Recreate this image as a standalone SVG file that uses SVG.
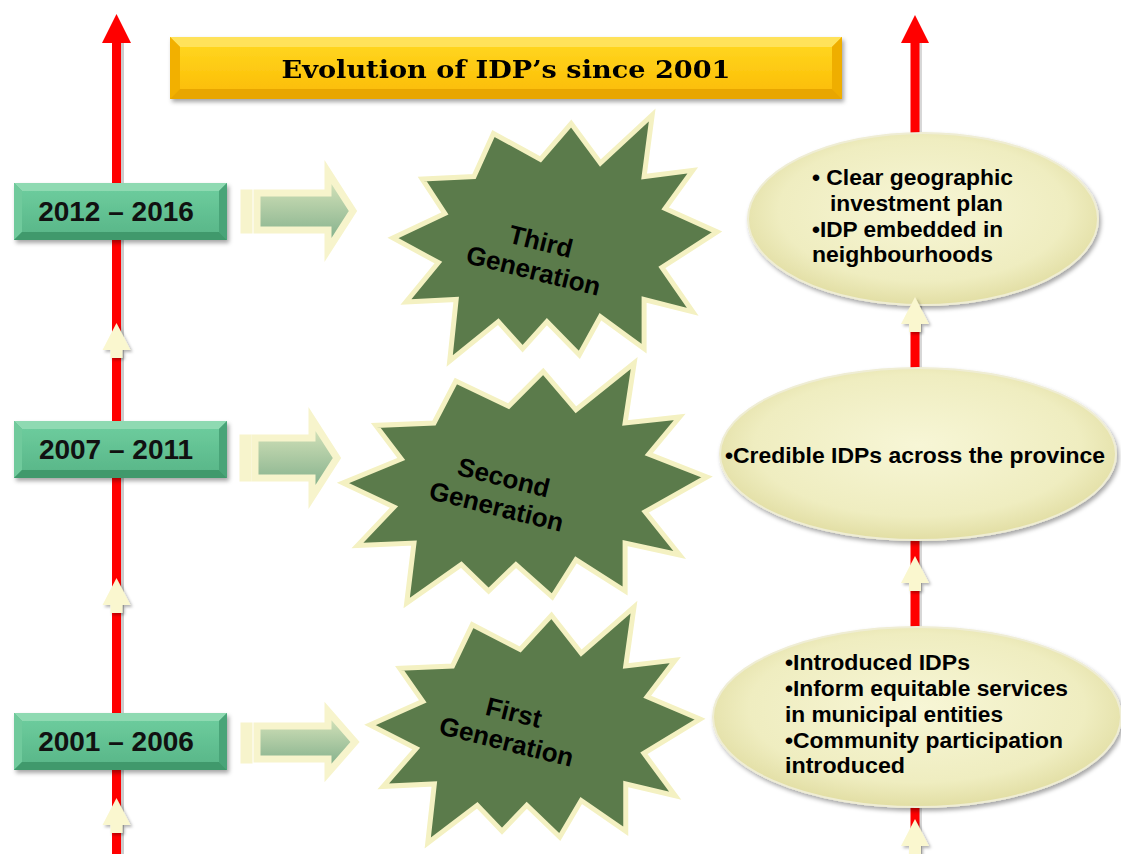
<svg xmlns="http://www.w3.org/2000/svg" xmlns:xlink="http://www.w3.org/1999/xlink" width="1121" height="854" viewBox="0 0 1121 854">
<style>
.yr{font-family:"Liberation Sans",Arial,sans-serif;font-weight:bold;font-size:28px;fill:#111;text-anchor:middle}
.gen{font-family:"Liberation Sans",Arial,sans-serif;font-weight:bold;font-size:26px;fill:#000;text-anchor:middle}
.el{font-family:"Liberation Sans",Arial,sans-serif;font-weight:bold;font-size:22px;fill:#000}
.title{font-family:"DejaVu Serif","Liberation Serif",serif;font-weight:bold;font-size:24px;fill:#000;text-anchor:middle}
.red{fill:#ff0000}
.star{fill:#5b7b4b;stroke:#f4f1c2;stroke-width:5;stroke-linejoin:miter}
.garrow{fill:url(#gArrow);stroke:#f7f4cc;stroke-width:7;stroke-linejoin:miter}
.cream{fill:#faf7cf}
.ell{fill:url(#gEll);stroke:#efedd4;stroke-width:2}
</style>
<defs>
<linearGradient id="gYear" x1="0" y1="0" x2="0" y2="1">
<stop offset="0" stop-color="#6ccb9c"/><stop offset="1" stop-color="#5ab88a"/>
</linearGradient>
<linearGradient id="gTitle" x1="0" y1="0" x2="0" y2="1">
<stop offset="0" stop-color="#ffd51f"/><stop offset="1" stop-color="#fcbf07"/>
</linearGradient>
<linearGradient id="gArrow" x1="0" y1="0" x2="0" y2="1">
<stop offset="0" stop-color="#dfe9c0"/><stop offset="1" stop-color="#78a985"/>
</linearGradient>
<radialGradient id="gEll" cx="0.5" cy="0.45" r="0.55">
<stop offset="0" stop-color="#f7f6d6"/><stop offset="0.75" stop-color="#efedc0"/><stop offset="1" stop-color="#e2dea4"/>
</radialGradient>
<filter id="sh" x="-10%" y="-20%" width="130%" height="150%">
<feDropShadow dx="2" dy="3" stdDeviation="2" flood-color="#000" flood-opacity="0.35"/>
</filter>
<filter id="shl" x="-10%" y="-10%" width="130%" height="130%">
<feDropShadow dx="2" dy="2" stdDeviation="1.5" flood-color="#000" flood-opacity="0.3"/>
</filter>
<g id="ybox">
<rect width="213" height="57" fill="#58b487"/>
<polygon points="0,0 213,0 205,8 8,8" fill="#8fdab2"/>
<polygon points="0,0 8,8 8,49 0,57" fill="#6fca9c"/>
<polygon points="213,0 213,57 205,49 205,8" fill="#4aa478"/>
<polygon points="0,57 8,49 205,49 213,57" fill="#3f996c"/>
<rect x="8" y="8" width="197" height="41" fill="url(#gYear)"/>
</g>
<path id="starShape" vector-effect="non-scaling-stroke" d="M100,-5 L68,-24 L85,-55 L55,-50 L60,-100 L28,-61 L10,-93 L-9,-64 L-38,-85 L-50,-50 L-82,-48 L-68,-20 L-100,0 L-72,20 L-92,52 L-61,50 L-65,100 L-35,68 L-20,90 L-5,68 L15,95 L28,64 L55,90 L55,50 L85,60 L66,24 Z"/>
<path id="smallArrow" d="M0,0 L14,27 L6,27 L6,35 L-6,35 L-6,27 L-14,27 Z"/>
</defs>

<g id="connectors">
<!-- left timeline -->
<rect x="115" y="40" width="9" height="814" fill="#9a9a9a" opacity="0.5"/>
<rect class="red" x="112" y="40" width="9" height="814"/>
<polygon class="red" points="116.5,14 131,43 102,43"/>
<!-- right timeline -->
<rect x="913" y="40" width="9" height="814" fill="#9a9a9a" opacity="0.4"/>
<rect class="red" x="910.5" y="40" width="9" height="814"/>
<polygon class="red" points="915,15 929,43 901,43"/>
<!-- small cream arrows left -->
<use href="#smallArrow" class="cream" x="116.5" y="323" filter="url(#shl)"/>
<use href="#smallArrow" class="cream" x="116.5" y="578" filter="url(#shl)"/>
<use href="#smallArrow" class="cream" x="116.5" y="798" filter="url(#shl)"/>
<!-- green block arrows -->
<rect class="garrow" x="244" y="193" width="5" height="37"/>
<path class="garrow" d="M257,193 H328 V172 L353,211 L328,250 V230 H257 Z"/>
<rect class="garrow" x="243" y="438" width="5" height="40"/>
<path class="garrow" d="M255,438 H312 V419 L337,458 L312,497 V478 H255 Z"/>
<rect class="garrow" x="244" y="726" width="5" height="34"/>
<path class="garrow" d="M257,726 H328 V711 L355,742 L328,773 V759 H257 Z"/>
</g>

<g id="title" filter="url(#sh)">
<rect x="170" y="37" width="672" height="62" fill="#f6b400"/>
<polygon points="170,37 842,37 832,47 180,47" fill="#ffe25a"/>
<polygon points="170,37 180,47 180,89 170,99" fill="#f2b000"/>
<polygon points="842,37 842,99 832,89 832,47" fill="#efae00"/>
<polygon points="170,99 180,89 832,89 842,99" fill="#e8a600"/>
<rect x="180" y="47" width="652" height="42" fill="url(#gTitle)"/>
<text class="title" x="506" y="78" textLength="449" lengthAdjust="spacingAndGlyphs">Evolution of IDP’s since 2001</text>
</g>

<g id="year-2012">
<use href="#ybox" x="14" y="183" filter="url(#sh)"/>
<text class="yr" x="116" y="221">2012 – 2016</text>
</g>
<g id="year-2007">
<use href="#ybox" x="14" y="421" filter="url(#sh)"/>
<text class="yr" x="116" y="459">2007 – 2011</text>
</g>
<g id="year-2001">
<use href="#ybox" x="14" y="713" filter="url(#sh)"/>
<text class="yr" x="116" y="751">2001 – 2006</text>
</g>

<g id="third-generation">
<use href="#starShape" class="star" transform="translate(555,238) scale(1.62,1.23)"/>
<g transform="rotate(14,537,257)">
<text class="gen" x="537" y="250">Third</text>
<text class="gen" x="537" y="280">Generation</text>
</g>
</g>
<g id="second-generation">
<use href="#starShape" class="star" transform="translate(525,483) scale(1.82,1.2)"/>
<g transform="rotate(14,500,493)">
<text class="gen" x="500" y="486">Second</text>
<text class="gen" x="500" y="516">Generation</text>
</g>
</g>
<g id="first-generation">
<use href="#starShape" class="star" transform="translate(535,725) scale(1.65,1.18)"/>
<g transform="rotate(14,510,728)">
<text class="gen" x="510" y="721">First</text>
<text class="gen" x="510" y="751">Generation</text>
</g>
</g>

<g id="outcome-third">
<ellipse class="ell" cx="923" cy="219" rx="175" ry="86" filter="url(#sh)"/>
<text class="el" x="812" y="185" textLength="201" lengthAdjust="spacingAndGlyphs">• Clear geographic</text>
<text class="el" x="830" y="211" textLength="173" lengthAdjust="spacingAndGlyphs">investment plan</text>
<text class="el" x="812" y="237" textLength="191" lengthAdjust="spacingAndGlyphs">•IDP embedded in</text>
<text class="el" x="812" y="262" textLength="181" lengthAdjust="spacingAndGlyphs">neighbourhoods</text>
</g>
<g id="outcome-second">
<ellipse class="ell" cx="918" cy="454" rx="198" ry="86" filter="url(#sh)"/>
<text class="el" x="725" y="463" textLength="380" lengthAdjust="spacingAndGlyphs">•Credible IDPs across the province</text>
</g>
<g id="outcome-first">
<ellipse class="ell" cx="917" cy="717" rx="204" ry="90" filter="url(#sh)"/>
<text class="el" x="785" y="670" textLength="185" lengthAdjust="spacingAndGlyphs">•Introduced IDPs</text>
<text class="el" x="785" y="696" textLength="283" lengthAdjust="spacingAndGlyphs">•Inform equitable services</text>
<text class="el" x="785" y="722" textLength="218" lengthAdjust="spacingAndGlyphs">in municipal entities</text>
<text class="el" x="785" y="748" textLength="278" lengthAdjust="spacingAndGlyphs">•Community participation</text>
<text class="el" x="785" y="773" textLength="120" lengthAdjust="spacingAndGlyphs">introduced</text>
</g>

<g id="right-arrows">
<use href="#smallArrow" class="cream" x="915" y="297" filter="url(#shl)"/>
<use href="#smallArrow" class="cream" x="915" y="556" filter="url(#shl)"/>
<use href="#smallArrow" class="cream" x="915" y="819" filter="url(#shl)"/>
</g>
</svg>
